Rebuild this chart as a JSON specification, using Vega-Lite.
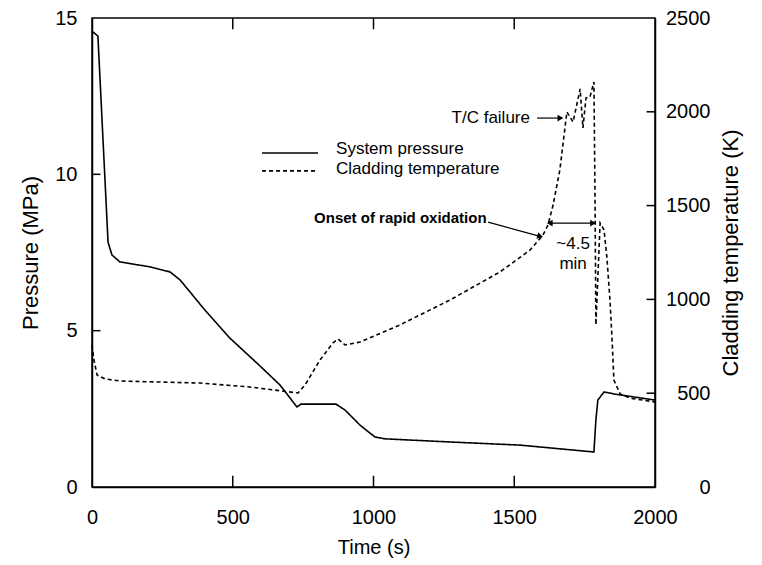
{
  "$schema": "https://vega.github.io/schema/vega-lite/v6.json",
  "width": 563,
  "height": 469,
  "autosize": {"type": "none"},
  "padding": {"left": 92, "top": 18, "right": 107, "bottom": 78},
  "background": "white",
  "config": {
    "font": "Liberation Sans",
    "view": {"stroke": "black", "strokeWidth": 1.5},
    "axis": {
      "grid": false,
      "ticks": false,
      "zindex": 1,
      "domainColor": "black",
      "domainWidth": 1.5,
      "labelColor": "black",
      "titleColor": "black",
      "labelFontSize": 20,
      "titleFontWeight": "normal",
      "labelFlush": false,
      "labelOverlap": false,
      "format": "d"
    }
  },
  "datasets": {
    "pressure": [
      {"t": 0, "p": 14.58}, {"t": 21, "p": 14.42}, {"t": 57, "p": 7.83}, {"t": 71, "p": 7.42},
      {"t": 99, "p": 7.2}, {"t": 206, "p": 7.04}, {"t": 277, "p": 6.88}, {"t": 313, "p": 6.62},
      {"t": 348, "p": 6.24}, {"t": 401, "p": 5.66}, {"t": 490, "p": 4.76}, {"t": 597, "p": 3.87},
      {"t": 668, "p": 3.26}, {"t": 728, "p": 2.56}, {"t": 742, "p": 2.65}, {"t": 867, "p": 2.65},
      {"t": 899, "p": 2.46}, {"t": 952, "p": 1.98}, {"t": 1005, "p": 1.6}, {"t": 1041, "p": 1.54},
      {"t": 1272, "p": 1.44}, {"t": 1520, "p": 1.34}, {"t": 1783, "p": 1.12}, {"t": 1790, "p": 2.14},
      {"t": 1797, "p": 2.78}, {"t": 1819, "p": 3.04}, {"t": 1858, "p": 2.97}, {"t": 2000, "p": 2.78}
    ],
    "temperature": [
      {"t": 0, "T": 757}, {"t": 7, "T": 677}, {"t": 18, "T": 597}, {"t": 46, "T": 576},
      {"t": 99, "T": 565}, {"t": 384, "T": 554}, {"t": 561, "T": 533}, {"t": 732, "T": 501},
      {"t": 757, "T": 544}, {"t": 810, "T": 677}, {"t": 856, "T": 768}, {"t": 874, "T": 789},
      {"t": 899, "T": 757}, {"t": 952, "T": 773}, {"t": 1094, "T": 864}, {"t": 1272, "T": 997},
      {"t": 1449, "T": 1146}, {"t": 1556, "T": 1263}, {"t": 1602, "T": 1343}, {"t": 1620, "T": 1397},
      {"t": 1638, "T": 1503}, {"t": 1662, "T": 1690}, {"t": 1687, "T": 1999}, {"t": 1709, "T": 1946},
      {"t": 1734, "T": 2122}, {"t": 1744, "T": 1914}, {"t": 1755, "T": 2074}, {"t": 1769, "T": 2079},
      {"t": 1783, "T": 2159}, {"t": 1787, "T": 1530}, {"t": 1790, "T": 864}, {"t": 1805, "T": 1407},
      {"t": 1819, "T": 1370}, {"t": 1829, "T": 1226}, {"t": 1840, "T": 997}, {"t": 1847, "T": 800},
      {"t": 1854, "T": 570}, {"t": 1876, "T": 496}, {"t": 1911, "T": 474}, {"t": 2000, "T": 453}
    ],
    "vticks": [
      {"tx": 500, "y1": 0, "y2": 0.36},
      {"tx": 1000, "y1": 0, "y2": 0.36},
      {"tx": 1500, "y1": 0, "y2": 0.36},
      {"tx": 500, "y1": 14.64, "y2": 15},
      {"tx": 1000, "y1": 14.64, "y2": 15},
      {"tx": 1500, "y1": 14.64, "y2": 15}
    ],
    "hticks": [
      {"ty": 5, "x1": 0, "x2": 30},
      {"ty": 10, "x1": 0, "x2": 30},
      {"ty": 3, "x1": 1970, "x2": 2000},
      {"ty": 6, "x1": 1970, "x2": 2000},
      {"ty": 9, "x1": 1970, "x2": 2000},
      {"ty": 12, "x1": 1970, "x2": 2000}
    ],
    "legend": [
      {"series": "System pressure", "t1": 604, "t2": 803, "p": 10.68, "lt": 867, "lp": 10.81},
      {"series": "Cladding temperature", "t1": 604, "t2": 803, "p": 10.11, "lt": 867, "lp": 10.17}
    ],
    "arrows": [
      {"t1": 1581, "p1": 11.8, "t2": 1670, "p2": 11.8},
      {"t1": 1407, "p1": 8.47, "t2": 1598, "p2": 8.0},
      {"t1": 1620, "p1": 8.44, "t2": 1786, "p2": 8.44}
    ],
    "heads": [
      {"t": 1664, "p": 11.8, "shape": "triangle-right", "angle": 0},
      {"t": 1592, "p": 8.02, "shape": "triangle-right", "angle": 15},
      {"t": 1626, "p": 8.44, "shape": "triangle-left", "angle": 0},
      {"t": 1780, "p": 8.44, "shape": "triangle-right", "angle": 0}
    ],
    "notesRight": [{"t": 1563, "p": 11.8, "label": "T/C failure"}],
    "notesCenter": [
      {"t": 1709, "p": 7.77, "label": "~4.5"},
      {"t": 1709, "p": 7.13, "label": "min"}
    ],
    "notesBold": [{"t": 789, "p": 8.6, "label": "Onset of rapid oxidation"}]
  },
  "layer": [
    {
      "layer": [
        {
          "data": {"name": "pressure"},
          "mark": {"type": "line", "color": "black", "strokeWidth": 1.6},
          "encoding": {
            "x": {
              "field": "t", "type": "quantitative",
              "scale": {"domain": [0, 2000], "nice": false},
              "axis": {
                "title": "Time (s)", "values": [0, 500, 1000, 1500, 2000],
                "labelPadding": 20, "titleFontSize": 20, "titlePadding": 10
              }
            },
            "y": {
              "field": "p", "type": "quantitative",
              "scale": {"domain": [0, 15], "nice": false},
              "axis": {
                "title": "Pressure (MPa)", "orient": "left", "values": [0, 5, 10, 15],
                "labelPadding": 15, "titleFontSize": 22, "titlePadding": 12
              }
            },
            "strokeDash": {
              "datum": "System pressure",
              "scale": {"domain": ["System pressure", "Cladding temperature"], "range": [[1, 0], [4, 3]]},
              "legend": null
            }
          }
        },
        {
          "data": {"name": "vticks"},
          "mark": {"type": "rule", "color": "black", "strokeWidth": 1.5},
          "encoding": {
            "x": {"field": "tx", "type": "quantitative"},
            "y": {"field": "y1", "type": "quantitative"},
            "y2": {"field": "y2"}
          }
        },
        {
          "data": {"name": "hticks"},
          "mark": {"type": "rule", "color": "black", "strokeWidth": 1.5},
          "encoding": {
            "y": {"field": "ty", "type": "quantitative"},
            "x": {"field": "x1", "type": "quantitative"},
            "x2": {"field": "x2"}
          }
        },
        {
          "data": {"name": "legend"},
          "mark": {"type": "rule", "color": "black", "strokeWidth": 1.6},
          "encoding": {
            "x": {"field": "t1", "type": "quantitative"},
            "x2": {"field": "t2"},
            "y": {"field": "p", "type": "quantitative"},
            "strokeDash": {"field": "series", "type": "nominal", "legend": null}
          }
        },
        {
          "data": {"name": "legend"},
          "mark": {"type": "text", "align": "left", "baseline": "middle", "fontSize": 17, "color": "black"},
          "encoding": {
            "x": {"field": "lt", "type": "quantitative"},
            "y": {"field": "lp", "type": "quantitative"},
            "text": {"field": "series"}
          }
        },
        {
          "data": {"name": "arrows"},
          "mark": {"type": "rule", "color": "black", "strokeWidth": 1.2},
          "encoding": {
            "x": {"field": "t1", "type": "quantitative"},
            "x2": {"field": "t2"},
            "y": {"field": "p1", "type": "quantitative"},
            "y2": {"field": "p2"}
          }
        },
        {
          "data": {"name": "heads"},
          "mark": {"type": "point", "filled": true, "color": "black", "opacity": 1, "size": 45},
          "encoding": {
            "x": {"field": "t", "type": "quantitative"},
            "y": {"field": "p", "type": "quantitative"},
            "shape": {"field": "shape", "type": "nominal", "scale": null},
            "angle": {"field": "angle", "type": "quantitative", "scale": null}
          }
        },
        {
          "data": {"name": "notesRight"},
          "mark": {"type": "text", "align": "right", "baseline": "middle", "fontSize": 17, "color": "black", "dx": -2},
          "encoding": {
            "x": {"field": "t", "type": "quantitative"},
            "y": {"field": "p", "type": "quantitative"},
            "text": {"field": "label"}
          }
        },
        {
          "data": {"name": "notesCenter"},
          "mark": {"type": "text", "align": "center", "baseline": "middle", "fontSize": 17, "color": "black"},
          "encoding": {
            "x": {"field": "t", "type": "quantitative"},
            "y": {"field": "p", "type": "quantitative"},
            "text": {"field": "label"}
          }
        },
        {
          "data": {"name": "notesBold"},
          "mark": {"type": "text", "align": "left", "baseline": "middle", "fontSize": 15, "fontWeight": "bold", "color": "black"},
          "encoding": {
            "x": {"field": "t", "type": "quantitative"},
            "y": {"field": "p", "type": "quantitative"},
            "text": {"field": "label"}
          }
        }
      ]
    },
    {
      "data": {"name": "temperature"},
      "mark": {"type": "line", "color": "black", "strokeWidth": 1.6},
      "encoding": {
        "x": {"field": "t", "type": "quantitative"},
        "y": {
          "field": "T", "type": "quantitative",
          "scale": {"domain": [0, 2500], "nice": false},
          "axis": {
            "title": "Cladding temperature (K)", "orient": "right",
            "values": [0, 500, 1000, 1500, 2000, 2500],
            "labelPadding": 55, "labelAlign": "right",
            "titleFontSize": 22, "titlePadding": 10, "titleAngle": 270, "titleBaseline": "top"
          }
        },
        "strokeDash": {"datum": "Cladding temperature", "legend": null}
      }
    }
  ],
  "resolve": {"scale": {"y": "independent"}}
}
